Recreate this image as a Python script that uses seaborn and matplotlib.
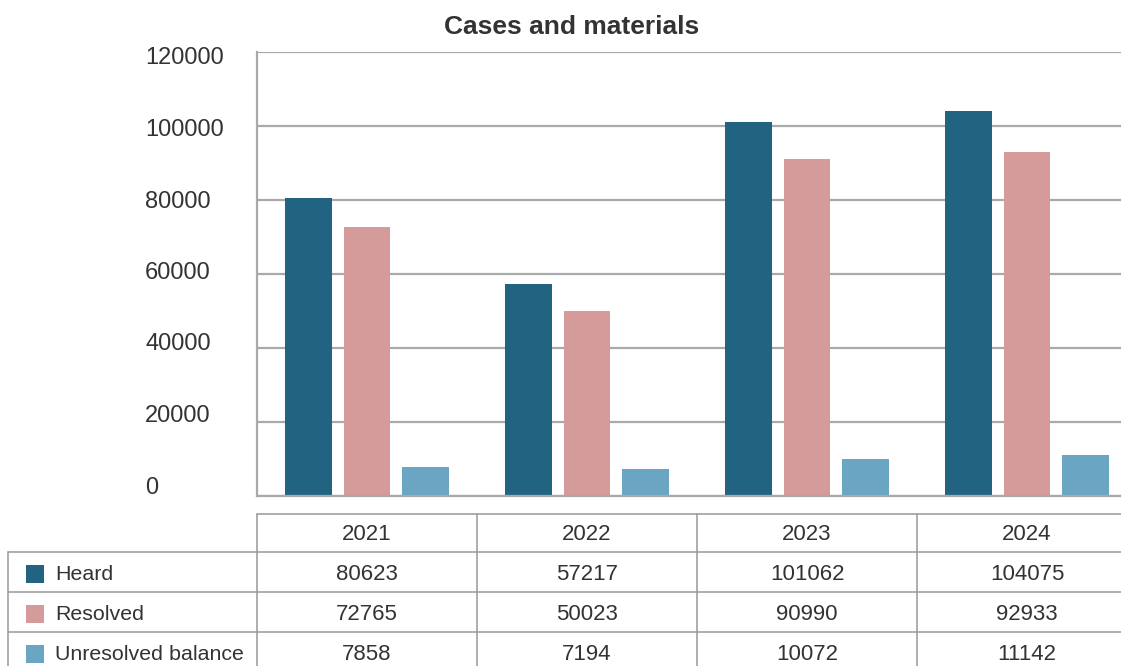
import matplotlib
matplotlib.use("Agg")
import matplotlib.pyplot as plt
from matplotlib.patches import Rectangle
import seaborn as sns
import pandas as pd

years = ["2021", "2022", "2023", "2024"]
heard = [80623, 57217, 101062, 104075]
resolved = [72765, 50023, 90990, 92933]
unresolved = [7858, 7194, 10072, 11142]
series_names = ["Heard", "Resolved", "Unresolved balance"]
series_colors = ["#236382", "#d59a9a", "#6aa6c4"]
y_ticks = [0, 20000, 40000, 60000, 80000, 100000, 120000]
title = "Cases and materials"

sns.set_theme(style="white")
plt.rcParams["font.family"] = ["Liberation Sans", "DejaVu Sans"]

TEXT = "#333333"
GRID = "#a9a9a9"

df = pd.DataFrame({
    "year": years * 3,
    "series": [s for s in series_names for _ in years],
    "value": heard + resolved + unresolved,
})

W, H = 1121, 666
fig = plt.figure(figsize=(W / 100, H / 100), dpi=100)

# main plot area (extends past the right edge of the canvas)
x0, x1 = 257, 1137
ax = fig.add_axes([x0 / W, (H - 496) / H, (x1 - x0) / W, 444 / H])
sns.barplot(data=df, x="year", y="value", hue="series", order=years,
            hue_order=series_names, palette=series_colors, width=0.8, gap=0.2,
            saturation=1, legend=False, linewidth=0, ax=ax)
ax.set_xlim(-0.5, 3.5)
ax.set_ylim(0, 120000)
ax.set_yticks(y_ticks)
ax.yaxis.grid(True, color=GRID, linewidth=1.6)
ax.set_axisbelow(True)
ax.set_xlabel("")
ax.set_ylabel("")
ax.set_xticks([])
ax.tick_params(axis="y", length=0, labelleft=False)
for s in ["top", "right"]:
    ax.spines[s].set_visible(False)
for s in ["left", "bottom"]:
    ax.spines[s].set_color(GRID)
    ax.spines[s].set_linewidth(1.6)

# value labels on a slightly compressed scale to the left of the axis
k = 429 / 444
off = 11 / 444 * 120000
sec = ax.secondary_yaxis("left", functions=(lambda p: (p - off) / k,
                                            lambda v: off + k * v))
sec.set_yticks(y_ticks)
sec.set_yticklabels([str(v) for v in y_ticks])
sec.spines["left"].set_visible(False)
sec.tick_params(axis="y", length=0, pad=80.6, labelsize=17, labelcolor=TEXT)
for lab in sec.get_yticklabels():
    lab.set_horizontalalignment("left")

fig.text(572 / W, 1 - 27 / H, title, ha="center", va="center",
         fontsize=19, fontweight="bold", color=TEXT)

# data table below the chart, rows measured in pixels
tax = fig.add_axes([x0 / W, (H - 672) / H, (x1 - x0) / W, 158 / H])
tax.set_xlim(-0.5, 3.5)
tax.set_ylim(672, 514)
tax.axis("off")
px = 1 / 220.0
label_left = -0.5 - (x0 - 8) * px
row_tops = [552, 592, 632]
row_h = 40
lw = 1.1
lc = "#999999"

tax.plot([-0.5, 3.5], [514, 514], color=lc, lw=lw, clip_on=False)
for yt in row_tops:
    tax.plot([label_left, 3.5], [yt, yt], color=lc, lw=lw, clip_on=False)
for xb in [-0.5, 0.5, 1.5, 2.5, 3.5]:
    tax.plot([xb, xb], [514, 672], color=lc, lw=lw, clip_on=False)
tax.plot([label_left, label_left], [552, 672], color=lc, lw=lw, clip_on=False)

for i, yr in enumerate(years):
    tax.text(i, 534, yr, ha="center", va="center", fontsize=16, color=TEXT)

rows = [heard, resolved, unresolved]
for r, (name, color, vals) in enumerate(zip(series_names, series_colors, rows)):
    yc = row_tops[r] + row_h / 2 + 2
    tax.add_patch(Rectangle((-0.5 - (x0 - 26) * px, yc - 9), 18 * px, 18,
                            facecolor=color, edgecolor="none", clip_on=False))
    tax.text(-0.5 - (x0 - 55) * px, yc, name, ha="left", va="center",
             fontsize=15.4, color=TEXT, clip_on=False)
    for i, v in enumerate(vals):
        tax.text(i, yc, str(v), ha="center", va="center", fontsize=16,
                 color=TEXT)

fig.savefig("out.png", dpi=100)
